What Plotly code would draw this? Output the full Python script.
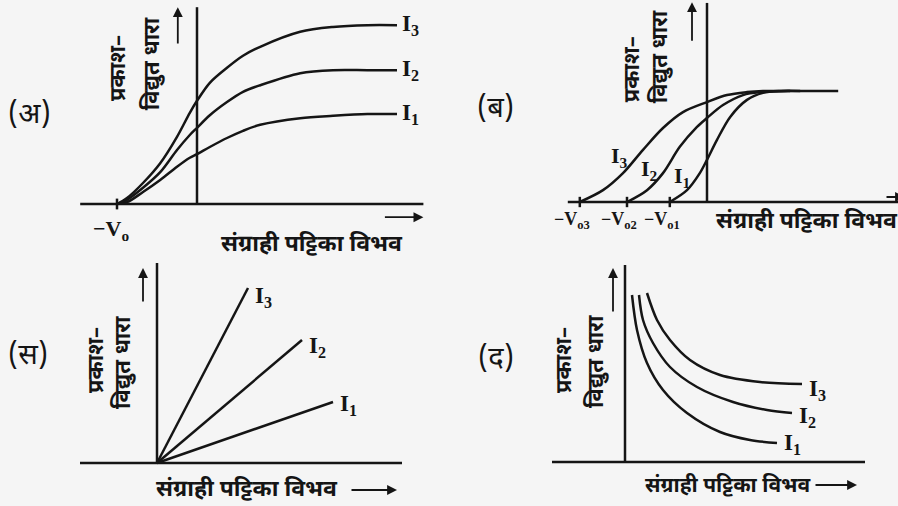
import plotly.graph_objects as go

W, H = 898, 506
INK = "#151515"
BG = "#f5f5f5"
LATIN = "Liberation Serif, DejaVu Serif, serif"
HINDI = "Noto Sans Devanagari, Noto Serif Devanagari, Lohit Devanagari, Mukta, sans-serif"

# (अ) same stopping potential -V0, saturation grows with intensity
a_v = [-1, -0.875, -0.675, -0.46, -0.25, -0.09, 0, 0.16, 0.375, 0.575, 0.79, 1.29, 1.7, 2.13, 2.5]
a_i1 = [0, 0.03, 0.2, 0.4, 0.62, 0.77, 0.83, 0.95, 1.1, 1.22, 1.32, 1.43, 1.47, 1.5, 1.5]
a_i2 = [0, 0.07, 0.27, 0.53, 0.9, 1.15, 1.27, 1.48, 1.7, 1.87, 1.98, 2.18, 2.23, 2.23, 2.23]
a_i3 = [0, 0.1, 0.35, 0.68, 1.12, 1.52, 1.72, 2.02, 2.27, 2.47, 2.62, 2.87, 2.95, 2.98, 2.98]

# (ब) different stopping potentials, same saturation
b_v1 = [-0.93, -0.5, -0.18, 0, 0.25, 0.58, 1.0, 1.4, 1.83, 2.33]
b_i1 = [0, 0.32, 0.78, 1.14, 1.68, 2.3, 2.76, 2.95, 3.0, 3.0]
b_v2 = [-2.0, -1.5, -1.1, -0.68, -0.25, 0, 0.4, 0.9, 1.33, 2.08]
b_i2 = [0, 0.32, 0.78, 1.49, 2.03, 2.27, 2.62, 2.89, 2.97, 3.0]
b_v3 = [-3.18, -2.6, -2.1, -1.6, -1.1, -0.6, 0, 0.5, 1.0, 1.4, 2.08, 3.28]
b_i3 = [0, 0.32, 0.78, 1.41, 2.0, 2.43, 2.7, 2.89, 2.97, 3.0, 3.0, 3.0]
b_stop = [-3.18, -2.0, -0.93]
b_stop_labels = ["−V<sub>o3</sub>", "−V<sub>o2</sub>", "−V<sub>o1</sub>"]

# (स) straight lines from origin
c_v1, c_i1 = [0, 3.52], [0, 1.22]
c_v2, c_i2 = [0, 2.9], [0, 2.46]
c_v3, c_i3 = [0, 1.82], [0, 3.5]

# (द) falling curves
d_v1 = [0.14, 0.24, 0.44, 0.76, 1.24, 1.9, 2.5, 3.04]
d_i1 = [3.34, 2.64, 1.98, 1.44, 0.98, 0.6, 0.44, 0.38]
d_v2 = [0.28, 0.36, 0.56, 0.9, 1.44, 2.16, 2.84, 3.34]
d_i2 = [3.34, 2.84, 2.38, 1.9, 1.5, 1.2, 1.04, 0.98]
d_v3 = [0.44, 0.64, 0.9, 1.3, 1.9, 2.7, 3.54]
d_i3 = [3.38, 2.84, 2.44, 2.04, 1.74, 1.6, 1.56]

# panel boxes in pixels (x0, x1, y0, y1), origin pixel, px per unit
panels = [
    dict(box=(0, 449, 0, 253), origin=(197, 204), scale=(80, 60)),
    dict(box=(449, 898, 0, 253), origin=(707, 202), scale=(40, 37)),
    dict(box=(0, 449, 253, 506), origin=(157, 463), scale=(50, 50)),
    dict(box=(449, 898, 253, 506), origin=(625, 462), scale=(50, 50)),
]

fig = go.Figure()
layout = {}
for k, p in enumerate(panels, start=1):
    bx0, bx1, by0, by1 = p["box"]
    ox, oy = p["origin"]
    sx, sy = p["scale"]
    sfx = "" if k == 1 else str(k)
    layout["xaxis" + sfx] = dict(domain=[bx0 / W, bx1 / W], range=[(bx0 - ox) / sx, (bx1 - ox) / sx],
                                 visible=False, fixedrange=True, anchor="y" + sfx)
    layout["yaxis" + sfx] = dict(domain=[1 - by1 / H, 1 - by0 / H], range=[(oy - by1) / sy, (oy - by0) / sy],
                                 visible=False, fixedrange=True, anchor="x" + sfx)
fig.update_layout(**layout)


def ref(k):
    return ("x", "y") if k == 1 else ("x" + str(k), "y" + str(k))


def curve(k, x, y, spline=True):
    xr, yr = ref(k)
    fig.add_trace(go.Scatter(
        x=x, y=y, mode="lines", xaxis=xr, yaxis=yr, showlegend=False, hoverinfo="skip",
        line=dict(color=INK, width=2.5, shape="spline" if spline else "linear", smoothing=0.9)
    ))


def seg(k, x0, y0, x1, y1, w=2.5):
    xr, yr = ref(k)
    fig.add_shape(type="line", xref=xr, yref=yr, x0=x0, y0=y0, x1=x1, y1=y1,
                  line=dict(color=INK, width=w))


def label(k, x, y, text, size=23, font=LATIN, xanchor="center", angle=0, xshift=0):
    xr, yr = ref(k)
    fig.add_annotation(xref=xr, yref=yr, x=x, y=y, text=text, showarrow=False,
                       xanchor=xanchor, yanchor="middle", textangle=angle, xshift=xshift,
                       font=dict(family=font, size=size, color=INK))


def arrow(k, x0, y0, x1, y1):
    xr, yr = ref(k)
    fig.add_annotation(xref=xr, yref=yr, axref=xr, ayref=yr, x=x1, y=y1, ax=x0, ay=y0,
                       text="", showarrow=True, arrowhead=2, arrowsize=1.1,
                       arrowwidth=1.8, arrowcolor=INK)


YL = 22   # rotated y label size
XL = 23   # x label size
PL = 29   # panel letter size

# ---- (अ)
for ys in (a_i1, a_i2, a_i3):
    curve(1, a_v, ys)
seg(1, -1.46, 0, 2.83, 0)
seg(1, 0, 0, 0, 3.28)
seg(1, -1, -0.09, -1, 0.09)
label(1, 2.54, a_i3[-1], "<b>I<sub>3</sub></b>", xanchor="left")
label(1, 2.54, a_i2[-1], "<b>I<sub>2</sub></b>", xanchor="left")
label(1, 2.54, a_i1[-1], "<b>I<sub>1</sub></b>", xanchor="left")
label(1, -1.08, -0.43, "<b>−V<sub>o</sub></b>", size=22)
label(1, -2.09, 1.47, "(अ)", size=PL, font=HINDI)
label(1, -0.96, 2.27, "<b>प्रकाश–</b>", size=YL, font=HINDI, angle=-90)
label(1, -0.55, 2.33, "<b>विद्युत धारा</b>", size=YL, font=HINDI, angle=-90)
label(1, 1.44, -0.68, "<b>संग्राही पट्टिका विभव</b>", size=XL, font=HINDI)
arrow(1, -0.24, 2.65, -0.24, 3.28)
arrow(1, 2.33, -0.22, 2.83, -0.22)

# ---- (ब)
curve(2, b_v1, b_i1)
curve(2, b_v2, b_i2)
curve(2, b_v3, b_i3)
seg(2, -3.48, 0, 4.8, 0)
seg(2, 0, 0, 0, 5.38)
for v, t in zip(b_stop, b_stop_labels):
    seg(2, v, -0.14, v, 0.14)
    label(2, v, -0.49, "<b>" + t + "</b>", size=18, xshift=-8)
label(2, -2.18, 1.22, "<b>I<sub>3</sub></b>", size=22)
label(2, -1.43, 0.86, "<b>I<sub>2</sub></b>", size=22)
label(2, -0.63, 0.68, "<b>I<sub>1</sub></b>", size=22)
label(2, -5.3, 2.49, "(ब)", size=PL, font=HINDI)
label(2, -1.85, 3.59, "<b>प्रकाश–</b>", size=YL, font=HINDI, angle=-90)
label(2, -1.12, 3.92, "<b>विद्युत धारा</b>", size=YL, font=HINDI, angle=-90)
label(2, 2.5, -0.54, "<b>संग्राही पट्टिका विभव</b>", size=XL, font=HINDI)
arrow(2, -0.375, 4.32, -0.375, 5.4)
arrow(2, 4.45, 0.135, 4.95, 0.135)

# ---- (स)
curve(3, c_v1, c_i1, spline=False)
curve(3, c_v2, c_i2, spline=False)
curve(3, c_v3, c_i3, spline=False)
seg(3, -1.54, 0, 4.9, 0)
seg(3, 0, 0, 0, 4.0)
label(3, c_v3[-1] + 0.1, c_i3[-1] - 0.18, "<b>I<sub>3</sub></b>", xanchor="left")
label(3, c_v2[-1] + 0.1, c_i2[-1] - 0.14, "<b>I<sub>2</sub></b>", xanchor="left")
label(3, c_v1[-1] + 0.1, c_i1[-1] - 0.06, "<b>I<sub>1</sub></b>", xanchor="left")
label(3, -2.58, 2.12, "(स)", size=PL, font=HINDI)
label(3, -1.2, 2.06, "<b>प्रकाश–</b>", size=YL, font=HINDI, angle=-90)
label(3, -0.66, 2.0, "<b>विद्युत धारा</b>", size=YL, font=HINDI, angle=-90)
label(3, 1.8, -0.54, "<b>संग्राही पट्टिका विभव</b>", size=XL, font=HINDI)
arrow(3, -0.28, 3.2, -0.28, 3.9)
arrow(3, 3.86, -0.54, 4.8, -0.54)

# ---- (द)
curve(4, d_v1, d_i1)
curve(4, d_v2, d_i2)
curve(4, d_v3, d_i3)
seg(4, -1.46, 0, 4.8, 0)
seg(4, 0, 0, 0, 3.94)
label(4, d_v3[-1] + 0.1, d_i3[-1] - 0.12, "<b>I<sub>3</sub></b>", xanchor="left")
label(4, d_v2[-1] + 0.1, d_i2[-1] - 0.08, "<b>I<sub>2</sub></b>", xanchor="left")
label(4, d_v1[-1] + 0.1, d_i1[-1] - 0.02, "<b>I<sub>1</sub></b>", xanchor="left")
label(4, -2.58, 2.04, "(द)", size=PL, font=HINDI)
label(4, -1.2, 2.04, "<b>प्रकाश–</b>", size=YL, font=HINDI, angle=-90)
label(4, -0.56, 2.0, "<b>विद्युत धारा</b>", size=YL, font=HINDI, angle=-90)
label(4, 2.04, -0.5, "<b>संग्राही पट्टिका विभव</b>", size=21, font=HINDI)
arrow(4, -0.24, 2.98, -0.24, 3.88)
arrow(4, 3.78, -0.46, 4.64, -0.46)

fig.update_layout(
    width=W, height=H, autosize=False,
    margin=dict(l=0, r=0, t=0, b=0),
    paper_bgcolor=BG, plot_bgcolor=BG,
    showlegend=False,
)

fig.write_html("out.html", config={"displayModeBar": False},
               post_script="document.body.style.margin='0';")
